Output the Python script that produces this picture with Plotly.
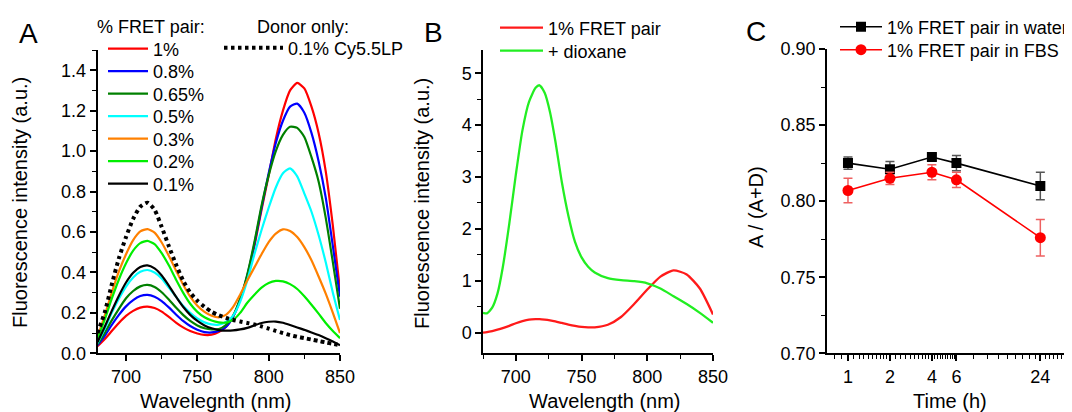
import math
import plotly.graph_objects as go

W, H = 1072, 412
OFF = 8  # page body margin of the browser; the figure is shifted by this much
FW, FH = W - OFF, H - OFF
FONT = "Arial, 'Liberation Sans', Helvetica, sans-serif"

# ---------------- Panel A data ----------------
wavelength_a = [680, 685, 690, 695, 700, 705, 710, 715, 720, 725, 730, 735, 740, 745, 750, 755, 760,
                765, 770, 775, 780, 785, 790, 795, 800, 805, 810, 815, 820, 825, 830, 835, 840, 845, 850]
fret_1 = [0.035, 0.07, 0.11, 0.15, 0.185, 0.21, 0.226, 0.231, 0.224, 0.206, 0.18, 0.152, 0.128, 0.11, 0.098,
          0.091, 0.092, 0.105, 0.13, 0.18, 0.265, 0.38, 0.53, 0.71, 0.88, 1.06, 1.2, 1.3, 1.337, 1.31, 1.22,
          1.09, 0.9, 0.63, 0.31]
fret_08 = [0.04, 0.085, 0.14, 0.19, 0.232, 0.263, 0.283, 0.289, 0.28, 0.258, 0.227, 0.192, 0.16, 0.135, 0.117,
           0.105, 0.103, 0.11, 0.13, 0.18, 0.265, 0.385, 0.54, 0.72, 0.89, 1.04, 1.15, 1.22, 1.235, 1.19, 1.09,
           0.95, 0.77, 0.53, 0.28]
fret_065 = [0.045, 0.1, 0.163, 0.22, 0.272, 0.308, 0.331, 0.338, 0.328, 0.302, 0.266, 0.226, 0.19, 0.16, 0.138,
            0.124, 0.118, 0.12, 0.14, 0.185, 0.27, 0.39, 0.55, 0.73, 0.88, 1.0, 1.08, 1.12, 1.115, 1.07, 0.97,
            0.85, 0.67, 0.45, 0.22]
fret_05 = [0.05, 0.12, 0.2, 0.27, 0.33, 0.375, 0.403, 0.412, 0.4, 0.37, 0.325, 0.28, 0.235, 0.2, 0.172,
           0.153, 0.143, 0.142, 0.155, 0.185, 0.255, 0.36, 0.49, 0.61, 0.72, 0.82, 0.89, 0.915, 0.875, 0.79, 0.7,
           0.585, 0.45, 0.3, 0.165]
fret_03 = [0.08, 0.185, 0.3, 0.405, 0.49, 0.56, 0.603, 0.614, 0.597, 0.548, 0.482, 0.41, 0.34, 0.28, 0.235,
           0.205, 0.186, 0.178, 0.19, 0.228, 0.29, 0.36, 0.425, 0.49, 0.55, 0.592, 0.613, 0.605, 0.575, 0.525,
           0.46, 0.38, 0.295, 0.2, 0.1]
fret_02 = [0.07, 0.165, 0.27, 0.365, 0.445, 0.508, 0.545, 0.556, 0.54, 0.495, 0.435, 0.365, 0.3, 0.245, 0.205,
           0.178, 0.162, 0.153, 0.152, 0.165, 0.2, 0.25, 0.29, 0.325, 0.348, 0.358, 0.356, 0.342, 0.318, 0.282,
           0.24, 0.196, 0.15, 0.11, 0.075]
fret_01 = [0.055, 0.13, 0.21, 0.285, 0.35, 0.398, 0.427, 0.435, 0.42, 0.385, 0.335, 0.28, 0.23, 0.19, 0.16,
           0.138, 0.124, 0.115, 0.112, 0.113, 0.118, 0.126, 0.138, 0.15, 0.156, 0.157, 0.151, 0.14, 0.128, 0.116,
           0.103, 0.09, 0.075, 0.058, 0.04]
donor_only = [0.1, 0.2, 0.34, 0.47, 0.575, 0.665, 0.725, 0.745, 0.71, 0.625, 0.53, 0.44, 0.36, 0.3, 0.26,
              0.23, 0.205, 0.188, 0.175, 0.165, 0.157, 0.15, 0.143, 0.133, 0.122, 0.111, 0.1, 0.09, 0.082, 0.075,
              0.068, 0.061, 0.054, 0.047, 0.04]
fret_labels = ["1%", "0.8%", "0.65%", "0.5%", "0.3%", "0.2%", "0.1%"]
fret_series = [fret_1, fret_08, fret_065, fret_05, fret_03, fret_02, fret_01]
fret_colors = ["#ff0000", "#0000ff", "#008000", "#00ffff", "#ff8000", "#00ee00", "#000000"]
donor_label = "0.1% Cy5.5LP"
legend_title_a = "% FRET pair:"
legend_title_donor = "Donor only:"

# ---------------- Panel B data ----------------
wavelength_b = [675, 678, 682, 686, 690, 695, 700, 705, 710, 715, 718, 722, 726, 730, 735, 740, 745, 750, 755,
                760, 770, 780, 790, 800, 810, 820, 830, 840, 850]
fret_pair_b = [0.0, 0.01, 0.03, 0.055, 0.085, 0.13, 0.18, 0.22, 0.25, 0.26, 0.26, 0.25, 0.235, 0.215, 0.185,
               0.155, 0.13, 0.11, 0.1, 0.1, 0.15, 0.3, 0.55, 0.83, 1.08, 1.2, 1.12, 0.85, 0.35]
dioxane_b = [0.38, 0.37, 0.48, 0.75, 1.25, 2.1, 3.05, 3.9, 4.45, 4.72, 4.77, 4.62, 4.25, 3.7, 2.9, 2.25, 1.75,
             1.45, 1.27, 1.16, 1.05, 1.01, 0.99, 0.95, 0.85, 0.7, 0.55, 0.38, 0.19]
labels_b = ["1% FRET pair", "+ dioxane"]

# ---------------- Panel C data ----------------
time_h = [1, 2, 4, 6, 24]
ratio_water = [0.825, 0.821, 0.829, 0.825, 0.810]
err_water = [0.004, 0.005, 0.002, 0.005, 0.009]
ratio_fbs = [0.807, 0.815, 0.819, 0.814, 0.776]
err_fbs = [0.008, 0.004, 0.005, 0.005, 0.012]
labels_c = ["1% FRET pair in water", "1% FRET pair in FBS"]
time_ticks = [1, 2, 4, 6, 24]
time_minor = ([0.8, 0.9] + [round(1 + 0.1 * i, 2) for i in range(1, 10)]
              + [round(2 + 0.2 * i, 2) for i in range(1, 10)]
              + [round(4 + 0.2 * i, 2) for i in range(1, 10)]
              + [8, 10, 12, 14, 16, 18, 20, 22, 26, 28, 30, 32, 34, 36, 38])


def fx(px):
    return (px - OFF) / FW


def fy(py):
    return 1 - (py - OFF) / FH


fig = go.Figure()
legend_layout = {}
legend_count = [0]


def new_legend(px_left, py_center, itemwidth):
    legend_count[0] += 1
    name = "legend" if legend_count[0] == 1 else "legend%d" % legend_count[0]
    legend_layout[name] = dict(x=fx(px_left), y=fy(py_center), xanchor="left", yanchor="middle",
                               bgcolor="rgba(0,0,0,0)", borderwidth=0, itemwidth=itemwidth,
                               font=dict(family=FONT, size=18, color="black"))
    return name


# Panel A
a_rows = [49, 71.5, 94, 116.5, 139, 161.5, 184]
for lab, ser, col, row in zip(fret_labels, fret_series, fret_colors, a_rows):
    fig.add_trace(go.Scatter(x=wavelength_a, y=ser, mode="lines", name=lab, showlegend=True,
                             line=dict(color=col, width=2.2, shape="spline", smoothing=0.6),
                             xaxis="x", yaxis="y", legend=new_legend(103, row, 40)))
fig.add_trace(go.Scatter(x=wavelength_a, y=donor_only, mode="lines", name=donor_label, showlegend=True,
                         line=dict(color="black", width=4, dash="3.5px,3.5px", shape="spline", smoothing=0.6),
                         xaxis="x", yaxis="y", legend=new_legend(219, 48, 59)))

# Panel B
fig.add_trace(go.Scatter(x=wavelength_b, y=fret_pair_b, mode="lines", name=labels_b[0], showlegend=True,
                         line=dict(color="#ff1a1a", width=2.3, shape="spline", smoothing=0.6),
                         xaxis="x2", yaxis="y2", legend=new_legend(495, 28, 43)))
fig.add_trace(go.Scatter(x=wavelength_b, y=dioxane_b, mode="lines", name=labels_b[1], showlegend=True,
                         line=dict(color="#22ee22", width=2.3, shape="spline", smoothing=0.6),
                         xaxis="x2", yaxis="y2", legend=new_legend(495, 51, 43)))

# Panel C
fig.add_trace(go.Scatter(x=time_h, y=ratio_water, mode="lines+markers", name=labels_c[0], showlegend=True,
                         line=dict(color="black", width=1.6),
                         marker=dict(symbol="square", size=10, color="black"),
                         error_y=dict(type="data", array=err_water, color="#555555", thickness=1.5, width=4.5),
                         xaxis="x3", yaxis="y3", legend=new_legend(835, 27, 42)))
fig.add_trace(go.Scatter(x=time_h, y=ratio_fbs, mode="lines+markers", name=labels_c[1], showlegend=True,
                         line=dict(color="#ff0000", width=1.6),
                         marker=dict(symbol="circle", size=11, color="#ff0000"),
                         error_y=dict(type="data", array=err_fbs, color="#ee6060", thickness=1.5, width=4.5),
                         xaxis="x3", yaxis="y3", legend=new_legend(835, 50, 42)))

axis_common = dict(showline=True, linecolor="black", linewidth=1.5, ticks="outside", ticklen=6,
                   tickwidth=1.5, tickcolor="black", showgrid=False, zeroline=False, mirror=False,
                   tickfont=dict(family=FONT, size=18, color="black"))
minor_common = dict(ticks="outside", ticklen=4, tickwidth=1.2, tickcolor="black", showgrid=False)

fig.update_layout(
    width=FW, height=FH,
    showlegend=True,
    margin=dict(l=0, r=0, t=0, b=0, autoexpand=False),
    paper_bgcolor="white", plot_bgcolor="white",
    font=dict(family=FONT, color="black"),
    xaxis=dict(domain=[fx(97.5), fx(340)], range=[680, 850], tick0=700, dtick=50,
               minor=dict(dtick=25, tick0=700, **minor_common), anchor="y", **axis_common),
    yaxis=dict(domain=[fy(353.3), fy(50)], range=[0, 1.5], dtick=0.2, tickformat=".1f",
               minor=dict(dtick=0.1, **minor_common), anchor="x", **axis_common),
    xaxis2=dict(domain=[fx(483), fx(713)], range=[675, 850], tick0=700, dtick=50,
                minor=dict(dtick=25, tick0=700, **minor_common), anchor="y2", **axis_common),
    yaxis2=dict(domain=[fy(353.3), fy(50)], range=[-0.4, 5.45], dtick=1, tick0=0,
                minor=dict(dtick=0.5, tick0=0, **minor_common), anchor="x2", **axis_common),
    xaxis3=dict(domain=[fx(827), 1.0], type="log", range=[math.log10(0.707), math.log10(40.5)],
                tickmode="array", tickvals=time_ticks, ticktext=[str(t) for t in time_ticks],
                minor=dict(tickmode="array", tickvals=time_minor, **minor_common), anchor="y3",
                **axis_common),
    yaxis3=dict(domain=[fy(353.3), fy(49)], range=[0.70, 0.90], dtick=0.05, tick0=0.70, tickformat=".2f",
                minor=dict(dtick=0.025, tick0=0.70, **minor_common), anchor="x3", **axis_common),
    **legend_layout,
)

annotations = [
    ("A", 28, 33, 0, 28, "center"), ("B", 433, 32, 0, 28, "center"), ("C", 756, 31, 0, 28, "center"),
    ("Fluorescence intensity (a.u.)", 20, 203, -90, 20, "center"),
    ("Fluorescence intensity (a.u.)", 422, 204, -90, 20, "center"),
    ("A / (A+D)", 756, 207, -90, 20, "center"),
    ("Wavelegnth (nm)", 216, 401, 0, 20, "center"),
    ("Wavelength (nm)", 605, 401, 0, 20, "center"),
    ("Time (h)", 950, 401, 0, 20, "center"),
    (legend_title_a, 151, 27, 0, 18, "center"),
    (legend_title_donor, 303, 27, 0, 18, "center"),
]
for text, px, py, ang, size, xa in annotations:
    fig.add_annotation(text=text, x=fx(px), y=fy(py), xref="paper", yref="paper", showarrow=False,
                       xanchor=xa, yanchor="middle", textangle=ang,
                       font=dict(family=FONT, size=size, color="black"))

fig.write_html("out.html")
